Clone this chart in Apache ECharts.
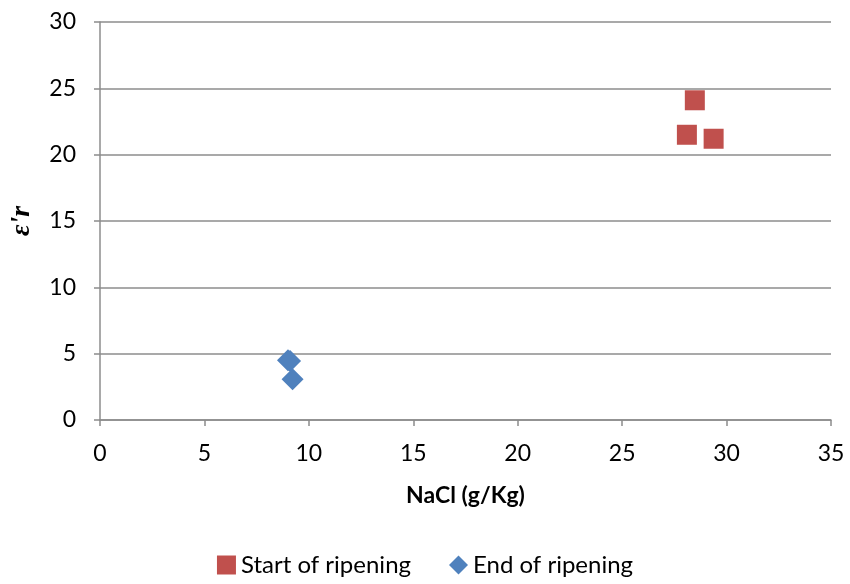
<!DOCTYPE html>
<html>
<head>
<meta charset="UTF-8">
<title>NaCl vs e'r</title>
<script src="https://cdn.jsdelivr.net/npm/echarts@6/dist/echarts.min.js"></script>
<style>
  html, body { margin: 0; padding: 0; background: #fff; }
  #main { width: 850px; height: 584px; }
</style>
</head>
<body>
<div id="main"></div>
<script>
// points: [NaCl g/Kg, e'r]
var startRipening = [[28.48, 24.1], [28.1, 21.5], [29.38, 21.2]];
var endRipening = [[9.0, 4.5], [9.1, 4.45], [9.22, 3.07]];
var seriesNames = ['Start of ripening', 'End of ripening'];

var chart = echarts.init(document.getElementById('main'));
var font = 'Lato, "Open Sans", sans-serif';
var gridColor = '#8c8c8c';

chart.setOption({
  animation: false,
  textStyle: { fontFamily: font },
  grid: { left: 98, right: 19, top: 22, bottom: 164 },
  legend: {
    bottom: 2,
    left: 'center',
    itemGap: 38,
    itemWidth: 19,
    itemHeight: 19,
    textStyle: { fontSize: 24, color: '#000', fontFamily: font },
    data: [
      { name: seriesNames[0], icon: 'rect' },
      { name: seriesNames[1], icon: 'diamond' }
    ]
  },
  xAxis: {
    type: 'value',
    min: 0, max: 35, interval: 5,
    name: 'NaCl (g/Kg)',
    nameLocation: 'middle',
    nameGap: 64,
    nameTextStyle: { fontSize: 23, fontWeight: 'bold', color: '#000', fontFamily: font },
    axisLine: { show: true, lineStyle: { color: gridColor, width: 1.5 } },
    axisTick: { show: true, length: 6, lineStyle: { color: gridColor, width: 1.5 } },
    axisLabel: { fontSize: 23, color: '#000', margin: 22 },
    splitLine: { show: false }
  },
  yAxis: {
    type: 'value',
    min: 0, max: 30, interval: 5,
    name: "\u03B5'r",
    nameLocation: 'middle',
    nameGap: 64,
    nameRotate: 90,
    nameTextStyle: { fontSize: 28, fontWeight: 'bold', fontStyle: 'italic', color: '#000', fontFamily: 'Liberation Serif, serif' },
    axisLine: { show: true, lineStyle: { color: gridColor, width: 1.5 } },
    axisTick: { show: true, length: 6, lineStyle: { color: gridColor, width: 1.5 } },
    axisLabel: { fontSize: 23, color: '#000', margin: 24 },
    splitLine: { show: true, lineStyle: { color: gridColor, width: 1.5 } }
  },
  series: [
    {
      name: seriesNames[0],
      type: 'scatter',
      symbol: 'rect',
      symbolSize: 20,
      itemStyle: { color: '#c0504d', opacity: 1 },
      data: startRipening
    },
    {
      name: seriesNames[1],
      type: 'scatter',
      symbol: 'diamond',
      symbolSize: 22,
      itemStyle: { color: '#4f81bd', opacity: 1 },
      data: endRipening
    }
  ]
});
</script>
</body>
</html>
